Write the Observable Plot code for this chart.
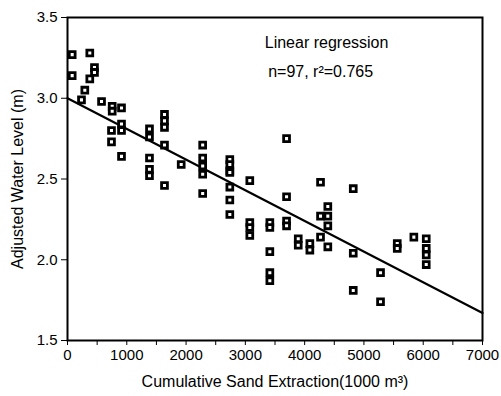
<!DOCTYPE html>
<html>
<head>
<meta charset="utf-8">
<script src="https://cdn.jsdelivr.net/npm/d3@7"></script>
<script src="https://cdn.jsdelivr.net/npm/@observablehq/plot@0.6"></script>
<style>
  html, body { margin: 0; padding: 0; background: #fff; }
  svg text { fill: #000; }
</style>
</head>
<body>
<div id="chart"></div>
<script>
// Cumulative sand extraction (1000 m3)
const sand = [
  79, 376, 455, 455, 79, 376, 292, 236, 574, 754, 754, 911, 911, 911, 742, 742, 911,
  1383, 1383, 1383, 1383, 1383, 1636, 1636, 1636, 1636, 1636, 1918,
  2280, 2280, 2280, 2280, 2280,
  2738, 2738, 2738, 2738, 2738, 2738, 2738,
  3075, 3075, 3075, 3075,
  3413, 3413, 3413, 3413, 3413,
  3695, 3695, 3695, 3695,
  3892, 3892, 4088, 4088,
  4268, 4268, 4268,
  4391, 4391, 4391, 4391,
  4820, 4820, 4820,
  5280, 5280, 5562, 5562, 5842,
  6051, 6051, 6051, 6051
];
// Adjusted water level (m)
const level = [
  3.27, 3.28, 3.19, 3.16, 3.14, 3.12, 3.05, 2.99, 2.98, 2.95, 2.92, 2.94, 2.84, 2.80, 2.80, 2.73, 2.64,
  2.81, 2.76, 2.63, 2.56, 2.52, 2.90, 2.86, 2.82, 2.71, 2.46, 2.59,
  2.71, 2.63, 2.58, 2.53, 2.41,
  2.62, 2.59, 2.55, 2.54, 2.45, 2.37, 2.28,
  2.49, 2.23, 2.20, 2.15,
  2.23, 2.20, 2.05, 1.92, 1.87,
  2.75, 2.39, 2.24, 2.21,
  2.13, 2.09, 2.10, 2.06,
  2.48, 2.27, 2.14,
  2.33, 2.27, 2.21, 2.08,
  2.44, 2.04, 1.81,
  1.92, 1.74, 2.10, 2.07, 2.14,
  2.13, 2.07, 2.03, 1.97
];
// Regression line end points
const regSand = [0, 7000];
const regLevel = [3.0, 1.67];

const xTicks = d3.range(0, 7001, 500);
const yTicks = [1.5, 2.0, 2.5, 3.0, 3.5];

const points = sand.map((s, i) => ({sand: s, level: level[i]}));
const reg = regSand.map((s, i) => ({sand: s, level: regLevel[i]}));
const notes = [
  {text: "Linear regression", sand: 4370, level: 3.34},
  {text: "n=97, r\u00b2=0.765", sand: 4270, level: 3.165}
];

const chart = Plot.plot({
  width: 501,
  height: 396,
  marginLeft: 67,
  marginRight: 19,
  marginTop: 17,
  marginBottom: 56,
  style: {fontFamily: "'Liberation Sans', Arial, sans-serif", fontSize: "15px", color: "#000", background: "#fff"},
  x: {
    domain: [0, 7000],
    ticks: xTicks,
    tickFormat: d => (d % 1000 === 0 ? String(d) : ""),
    tickSize: 5,
    tickPadding: 4,
    label: "Cumulative Sand Extraction(1000 m\u00b3)",
    labelAnchor: "center",
    labelArrow: "none",
    labelOffset: 46
  },
  y: {
    domain: [1.5, 3.5],
    ticks: yTicks,
    tickFormat: d3.format(".1f"),
    tickSize: 6,
    tickPadding: 4,
    label: "Adjusted Water Level (m)",
    labelAnchor: "center",
    labelArrow: "none",
    labelOffset: 56
  },
  marks: [
    Plot.frame({stroke: "#000", strokeWidth: 2}),
    Plot.line(reg, {x: "sand", y: "level", stroke: "#000", strokeWidth: 2.2}),
    Plot.dot(points, {x: "sand", y: "level", symbol: "square", r: 3.3, fill: "#fff", stroke: "#000", strokeWidth: 2.8}),
    Plot.text(notes, {x: "sand", y: "level", text: "text", textAnchor: "middle", fontSize: 16, fill: "#000"})
  ]
});
// strip any direction arrows Plot may add to the axis labels
chart.querySelectorAll('g[aria-label$="axis label"] text').forEach(t => {
  t.textContent = t.textContent.replace(/\s*[\u2191\u2192\u2190\u2193]\s*/g, "").trim();
  t.setAttribute("font-size", "16");
});
document.getElementById("chart").appendChild(chart);
</script>
</body>
</html>
